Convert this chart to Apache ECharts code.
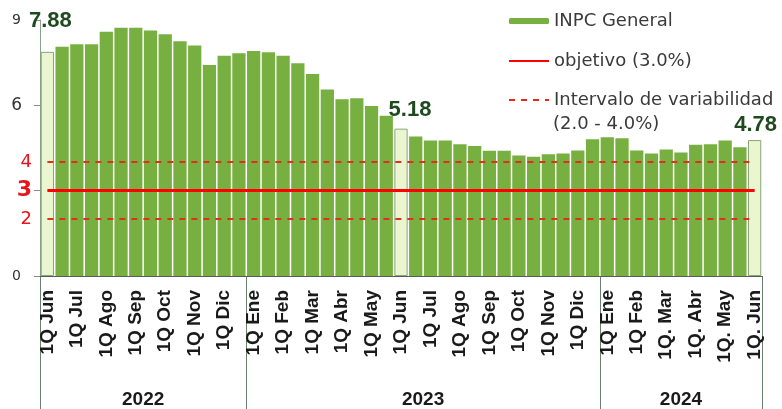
<!DOCTYPE html>
<html>
<head>
<meta charset="utf-8">
<script src="https://cdn.jsdelivr.net/npm/echarts@6/dist/echarts.min.js"></script>
<style>html,body{margin:0;padding:0;background:#fff;}#c{width:782px;height:409px;}</style>
</head>
<body>
<div id="c"></div>
<script>
// ---- data ----
var categories = [
  '1Q Jun','2Q Jun','1Q Jul','2Q Jul','1Q Ago','2Q Ago','1Q Sep','2Q Sep','1Q Oct','2Q Oct','1Q Nov','2Q Nov','1Q Dic','2Q Dic',
  '1Q Ene','2Q Ene','1Q Feb','2Q Feb','1Q Mar','2Q Mar','1Q Abr','2Q Abr','1Q May','2Q May','1Q Jun','2Q Jun','1Q Jul','2Q Jul','1Q Ago','2Q Ago','1Q Sep','2Q Sep','1Q Oct','2Q Oct','1Q Nov','2Q Nov','1Q Dic','2Q Dic',
  '1Q Ene','2Q Ene','1Q Feb','2Q Feb','1Q. Mar','2Q. Mar','1Q. Abr','2Q. Abr','1Q. May','2Q. May','1Q. Jun'
];
var inpc = [
  7.88,8.06,8.15,8.15,8.59,8.73,8.73,8.63,8.50,8.25,8.10,7.42,7.74,7.83,
  7.91,7.87,7.74,7.48,7.10,6.56,6.21,6.25,5.98,5.63,5.18,4.90,4.76,4.76,4.63,4.57,4.40,4.40,4.24,4.19,4.28,4.31,4.41,4.81,
  4.88,4.84,4.41,4.31,4.45,4.34,4.61,4.63,4.76,4.53,4.78
];
var years = ['2022','2023','2024'];
var yearStartIndex = [0, 14, 38];
var highlighted = [0, 24, 48];
var objetivo = 3.0;
var intervalo = [2.0, 4.0];
var intervaloText = '(2.0 - 4.0%)';
var yLabelValues = [0, 2, 3, 4, 6, 9];
var yTickValues = [0, 3, 6, 9];

// ---- styles ----
var GREEN = '#77b041', LIGHT = '#e9f6cf', DARK = '#1f4a1f', RED = '#ff0000';
var labelOffsets = {0: [3, -15], 24: [9, -3], 48: [1, 1]};
var LEGEND_FONT = {fontFamily: 'DejaVu Sans', fontSize: 18, color: '#3a3a3a', lineHeight: 20};

var barData = inpc.map(function (v, i) {
  if (highlighted.indexOf(i) >= 0) {
    return {
      value: v,
      itemStyle: {color: LIGHT, borderColor: '#8aa57a', borderWidth: 1},
      label: {
        show: true, position: 'top', distance: 5, offset: labelOffsets[i],
        formatter: function (p) { return p.value.toFixed(2); },
        fontFamily: 'Liberation Sans', fontWeight: 'bold', fontSize: 22, color: DARK
      }
    };
  }
  return v;
});

var firstIdx = 0, lastIdx = categories.length - 1;
var hiddenSymbol = {color: 'rgba(0,0,0,0)', opacity: 0, borderWidth: 0};

var chart = echarts.init(document.getElementById('c'));
var option = {
  animation: false,
  grid: {left: 40, right: 20, top: 20, bottom: 133, containLabel: false},
  legend: [
    {
      data: ['INPC General', {name: 'objetivo (3.0%)', itemStyle: hiddenSymbol}],
      orient: 'vertical', left: 508, top: 11, padding: 0, itemGap: 20,
      itemWidth: 40, itemHeight: 6, selectedMode: false,
      textStyle: LEGEND_FONT
    },
    {
      data: [{name: 'Intervalo de variabilidad', itemStyle: hiddenSymbol}],
      orient: 'vertical', left: 508, top: 90, padding: 0,
      itemWidth: 40, itemHeight: 6, selectedMode: false,
      textStyle: LEGEND_FONT
    }
  ],
  xAxis: {
    type: 'category', data: categories,
    axisLine: {lineStyle: {color: '#5a5a5a', width: 1}},
    axisTick: {show: false},
    axisLabel: {
      interval: 1, rotate: 90, margin: 14,
      fontFamily: 'Liberation Sans', fontWeight: 'bold', fontSize: 19, color: '#1a1a1a'
    }
  },
  yAxis: {
    type: 'value', min: 0, max: 9, interval: 3,
    splitLine: {show: false},
    axisLine: {show: true, lineStyle: {color: '#8aa08a', width: 1}},
    axisTick: {show: true, length: 6, customValues: yTickValues, lineStyle: {color: '#8a8a8a'}},
    axisLabel: {
      margin: 8, customValues: yLabelValues,
      formatter: function (v) {
        if (v === 3) return '{r3|3}';
        if (v === 2 || v === 4) return '{r|' + v + '}';
        if (v === 6) return '{k6|6}';
        return '{k|' + v + '}';
      },
      rich: {
        r3: {fontFamily: 'DejaVu Sans', fontWeight: 'bold', fontSize: 22, color: '#e8141c'},
        r: {fontFamily: 'DejaVu Sans', fontSize: 18, color: '#e8141c'},
        k6: {fontFamily: 'DejaVu Sans', fontSize: 17, color: '#333', padding: [0, 10, 0, 0]},
        k: {fontFamily: 'DejaVu Sans', fontSize: 14, color: '#333', padding: [0, 11, 0, 0]}
      }
    }
  },
  series: [
    {
      name: 'INPC General', type: 'bar', data: barData, barCategoryGap: '10%',
      itemStyle: {color: GREEN}, z: 2
    },
    {
      name: 'objetivo (3.0%)', type: 'line', data: [], symbol: 'none', showSymbol: false, z: 5,
      itemStyle: {color: RED},
      lineStyle: {color: RED, width: 3},
      markLine: {
        silent: true, symbol: 'none', label: {show: false},
        lineStyle: {color: RED, width: 3, type: 'solid'},
        data: [[{coord: [firstIdx, objetivo]}, {coord: [lastIdx, objetivo]}]]
      }
    },
    {
      name: 'Intervalo de variabilidad', type: 'line', data: [], symbol: 'none', showSymbol: false, z: 5,
      itemStyle: {color: '#e8261c'},
      lineStyle: {color: '#e8261c', width: 2, type: [6, 6]},
      markLine: {
        silent: true, symbol: 'none', label: {show: false},
        lineStyle: {color: '#e0301c', width: 2, type: [6, 6]},
        data: [
          [{coord: [firstIdx, intervalo[1]]}, {coord: [lastIdx, intervalo[1]]}],
          [{coord: [firstIdx, intervalo[0]]}, {coord: [lastIdx, intervalo[0]]}]
        ]
      }
    }
  ]
};
chart.setOption(option);

// year dividers and labels, positioned via the axis scale
var x0 = chart.convertToPixel({xAxisIndex: 0}, 0);
var x1 = chart.convertToPixel({xAxisIndex: 0}, 1);
var bw = x1 - x0;
var yAxisPx = chart.convertToPixel({yAxisIndex: 0}, 0);
function boundary(idx) { return x0 + (idx - 0.5) * bw; }
var bounds = yearStartIndex.concat([categories.length]);
var g = [];
bounds.forEach(function (b) {
  var bx = Math.round(boundary(b)) + 0.5;
  g.push({type: 'line', shape: {x1: bx, y1: yAxisPx, x2: bx, y2: 409}, style: {stroke: '#6b806b', lineWidth: 1}, silent: true});
});
years.forEach(function (y, k) {
  var cx = (boundary(bounds[k]) + boundary(bounds[k + 1])) / 2;
  g.push({type: 'text', x: cx, y: 400, style: {text: y, align: 'center', verticalAlign: 'middle', fontFamily: 'Liberation Sans', fontWeight: 'bold', fontSize: 19, fill: '#1a1a1a'}, silent: true});
});
g.push({type: 'text', left: 553, top: 115, style: {text: intervaloText, fontFamily: 'DejaVu Sans', fontSize: 18, fill: '#3a3a3a'}, silent: true});
chart.setOption({graphic: g});
</script>
</body>
</html>
